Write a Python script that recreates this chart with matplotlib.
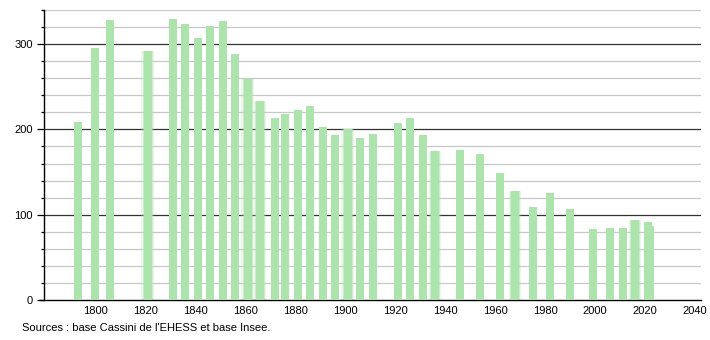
import numpy as np
import matplotlib.pyplot as plt
from matplotlib.ticker import MultipleLocator

plt.rcParams['font.family'] = ['Liberation Sans', 'DejaVu Sans']

# Années de recensement et population
years = [1793, 1800, 1806, 1821, 1831, 1836, 1841, 1846, 1851, 1856,
         1861, 1866, 1872, 1876, 1881, 1886, 1891, 1896, 1901, 1906,
         1911, 1921, 1926, 1931, 1936, 1946, 1954, 1962, 1968, 1975,
         1982, 1990, 1999, 2006, 2011, 2016, 2021, 2022]
population = [209, 295, 328, 292, 330, 324, 307, 321, 327, 288,
              259, 233, 213, 218, 223, 227, 203, 194, 201, 190,
              195, 208, 213, 194, 175, 176, 171, 149, 128, 109,
              126, 107, 83, 85, 85, 94, 92, 87]

# barres floues dans l'image d'origine
soft_years = [1821, 1861, 1866, 1901, 1936, 1968, 2016]

source = "Sources : base Cassini de l'EHESS et base Insee."

green = '#ade3ad'

fig = plt.figure(figsize=(7.1, 3.4), dpi=100)
ax = fig.add_axes([0.062, 0.1176, 0.925, 0.853])

for y, p in zip(years, population):
    if y in soft_years:
        ax.bar(y, p, width=5.0, color=green, alpha=0.25, zorder=2, linewidth=0)
        ax.bar(y, p, width=4.0, color=green, alpha=0.45, zorder=2, linewidth=0)
ax.bar(years, population, width=3.2, color=green, zorder=3, linewidth=0)

ax.set_xlim(1779.5, 2042.3)
ax.set_ylim(0, 340)

# grille
for v in range(20, 341, 20):
    if v % 100 == 0:
        ax.axhline(v, color='#333333', lw=0.9, zorder=1)
    else:
        ax.axhline(v, color='#c8c8c8', lw=0.9, zorder=1)

ax.set_xticks(range(1800, 2041, 20))
ax.yaxis.set_major_locator(MultipleLocator(100))
ax.yaxis.set_minor_locator(MultipleLocator(20))
ax.tick_params(axis='x', length=0, labelsize=8, pad=4)
ax.tick_params(axis='y', which='major', length=5, width=0.9, labelsize=8, pad=3)
ax.tick_params(axis='y', which='minor', length=2.5, width=0.9)

for s in ['top', 'right']:
    ax.spines[s].set_visible(False)
ax.spines['left'].set_linewidth(1.0)
ax.spines['bottom'].set_linewidth(1.0)
ax.spines['bottom'].set_bounds(1777.8, 2042.3)
ax.spines['left'].set_bounds(0, 340)

fig.text(0.031, 0.035, source, fontsize=8, ha='left', va='center')

fig.savefig('out.png', dpi=100)
